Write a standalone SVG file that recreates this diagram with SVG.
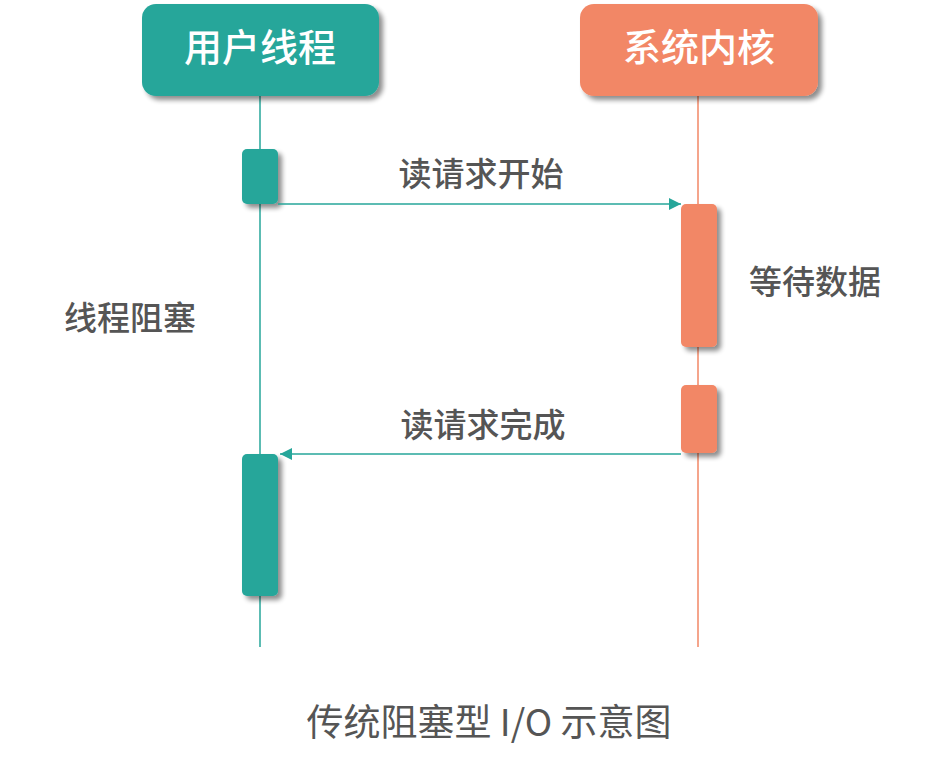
<svg xmlns="http://www.w3.org/2000/svg" width="946" height="769" viewBox="0 0 946 769">
<defs>
<filter id="sh" x="-20%" y="-20%" width="150%" height="150%">
<feGaussianBlur in="SourceAlpha" stdDeviation="2.5"/>
<feOffset dx="4" dy="4" result="b"/>
<feComponentTransfer><feFuncA type="linear" slope="0.45"/></feComponentTransfer>
<feMerge><feMergeNode/><feMergeNode in="SourceGraphic"/></feMerge>
</filter>
<marker id="ah" viewBox="0 0 12 12" refX="12" refY="6" markerWidth="12" markerHeight="12" markerUnits="userSpaceOnUse" orient="auto">
<path d="M0,0 L12,6 L0,12 Z" fill="#26A69A"/>
</marker>
</defs>
<style>
.teal{fill:#26A69A}
.orange{fill:#F28766}
.head{font-family:"Noto Sans CJK SC","Noto Sans",sans-serif;font-size:38px;font-weight:500;fill:#ffffff;text-anchor:middle}
.lbl{font-family:"Noto Sans CJK SC","Noto Sans",sans-serif;font-size:33px;font-weight:500;fill:#555555}
.title{font-family:"Noto Sans CJK SC","Noto Sans",sans-serif;font-size:37px;fill:#555555;text-anchor:middle}
.life{stroke-width:1.5;fill:none}
.msg{stroke:#26A69A;stroke-width:1.5;fill:none}
</style>
<rect width="946" height="769" fill="#ffffff"/>
<g id="lifelines">
<line class="life" x1="260" y1="96" x2="260" y2="647" stroke="#26A69A"/>
<line class="life" x1="698" y1="96" x2="698" y2="647" stroke="#F28766"/>
</g>
<g id="user-thread">
<rect class="teal" x="142" y="4" width="237" height="92" rx="14" filter="url(#sh)"/>
<text class="head" x="260" y="61">用户线程</text>
</g>
<g id="kernel">
<rect class="orange" x="580" y="4" width="238" height="92" rx="14" filter="url(#sh)"/>
<text class="head" x="699" y="61">系统内核</text>
</g>
<g id="act-user-1"><rect class="teal" x="242" y="149" width="36" height="55" rx="5" filter="url(#sh)"/></g>
<g id="act-user-2"><rect class="teal" x="242" y="454" width="36" height="142" rx="5" filter="url(#sh)"/></g>
<g id="act-kernel-1"><rect class="orange" x="681" y="204" width="36" height="143" rx="5" filter="url(#sh)"/></g>
<g id="act-kernel-2"><rect class="orange" x="681" y="385" width="36" height="68" rx="5" filter="url(#sh)"/></g>
<g id="connectors">
<line class="msg" x1="278" y1="204" x2="681" y2="204" marker-end="url(#ah)"/>
<line class="msg" x1="681" y1="454" x2="280" y2="454" marker-end="url(#ah)"/>
</g>
<g id="labels">
<text class="lbl" x="481" y="186" text-anchor="middle">读请求开始</text>
<text class="lbl" x="483" y="437" text-anchor="middle">读请求完成</text>
<text class="lbl" x="749" y="294">等待数据</text>
<text class="lbl" x="64" y="330">线程阻塞</text>
<text class="title" x="489" y="736">传统阻塞型 I/O 示意图</text>
</g>
</svg>
